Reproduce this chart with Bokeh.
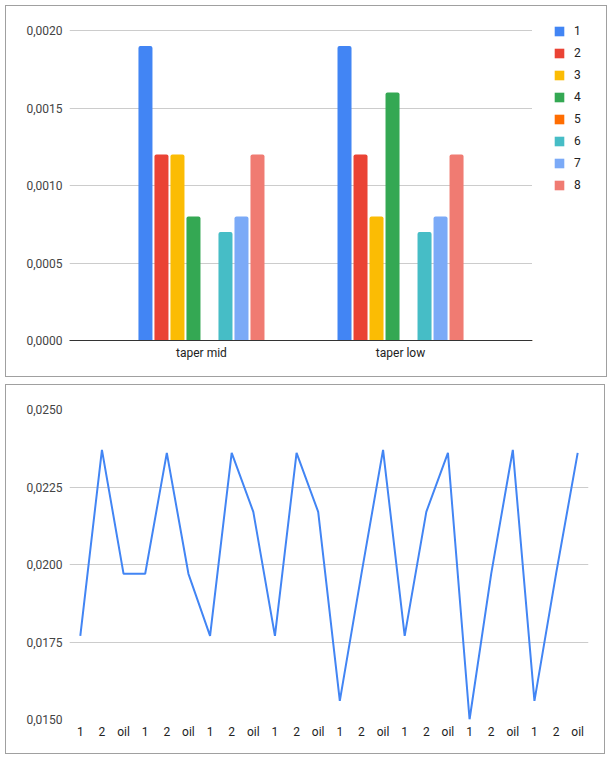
from bokeh.plotting import figure
from bokeh.models import (ColumnDataSource, FactorRange, Range1d, FixedTicker,
                          Legend, LegendItem, Spacer)
from bokeh.transform import dodge
from bokeh.layouts import column, row
from bokeh.embed import file_html
from bokeh.resources import INLINE

# ---------------- data ----------------
groups = ["taper mid", "taper low"]
series_names = ["1", "2", "3", "4", "5", "6", "7", "8"]
s1 = [0.0019, 0.0019]
s2 = [0.0012, 0.0012]
s3 = [0.0012, 0.0008]
s4 = [0.0008, 0.0016]
s5 = [0.0, 0.0]
s6 = [0.0007, 0.0007]
s7 = [0.0008, 0.0008]
s8 = [0.0012, 0.0012]
bar_colors = ["#4285F4", "#EA4335", "#FBBC04", "#34A853",
              "#FF6D01", "#46BDC6", "#7BAAF7", "#F07B72"]
bar_ticks = [0.0, 0.0005, 0.0010, 0.0015, 0.0020]
bar_tick_labels = ["0,0000", "0,0005", "0,0010", "0,0015", "0,0020"]

line_cats = ["1", "2", "oil"] * 8
line_vals = [0.0177, 0.0237, 0.0197, 0.0197, 0.0236, 0.0197, 0.0177, 0.0236,
             0.0217, 0.0177, 0.0236, 0.0217, 0.0156, 0.0197, 0.0237, 0.0177,
             0.0217, 0.0236, 0.0150, 0.0197, 0.0237, 0.0156, 0.0197, 0.0236]
line_ticks = [0.0150, 0.0175, 0.0200, 0.0225, 0.0250]
line_tick_labels = ["0,0150", "0,0175", "0,0200", "0,0225", "0,0250"]

FONT = "Roboto"
BOX = {"border": "1px solid #a0a0a0"}


def style_axes(p, xaxis_line):
    for ax in (p.xaxis, p.yaxis):
        ax.major_tick_line_color = None
        ax.minor_tick_line_color = None
        ax.major_tick_out = 0
        ax.major_tick_in = 0
        ax.minor_tick_out = 0
        ax.major_label_text_font = FONT
        ax.major_label_text_font_size = "12px"
    p.yaxis.axis_line_color = None
    p.yaxis.major_label_standoff = 7
    p.yaxis.major_label_text_color = "#444444"
    p.xaxis.axis_line_color = xaxis_line
    p.xaxis.major_label_standoff = 5
    p.xaxis.major_label_text_color = "#222222"
    p.xgrid.grid_line_color = None
    p.ygrid.grid_line_color = "#cccccc"


# ---------------- bar chart ----------------
# frame is 316 px tall; the top gridline (0,0020) sits 6 px below its top edge
p1 = figure(width=526, height=370, output_backend="svg", toolbar_location=None,
            x_range=FactorRange(*groups, range_padding=0.163,
                                range_padding_units="absolute"),
            y_range=Range1d(0, bar_ticks[-1] * 316 / 310),
            min_border_left=63, min_border_right=0,
            min_border_top=18, min_border_bottom=36)
p1.outline_line_color = None

all_series = [s1, s2, s3, s4, s5, s6, s7, s8]
step = 0.0804
bw = 0.0704
for i, (vals, col) in enumerate(zip(all_series, bar_colors)):
    src = ColumnDataSource(dict(cat=groups, val=vals))
    p1.vbar(x=dodge("cat", (i - 3.5) * step, range=p1.x_range), top="val",
            width=bw, source=src, color=col, line_color=None,
            border_radius=(2, 2, 0, 0))

p1.yaxis.ticker = FixedTicker(ticks=bar_ticks)
p1.yaxis.major_label_overrides = {t: l for t, l in zip(bar_ticks, bar_tick_labels)}
p1.ygrid.ticker = FixedTicker(ticks=bar_ticks)
style_axes(p1, "#333333")

# legend panel (same series, drawn outside its visible range)
pleg = figure(width=74, height=370, output_backend="svg", toolbar_location=None,
              x_axis_location=None, y_axis_location=None,
              x_range=Range1d(0, 1), y_range=Range1d(100, 200),
              min_border=0)
pleg.outline_line_color = None
pleg.grid.grid_line_color = None
leg_renderers = []
for vals, col in zip(all_series, bar_colors):
    src = ColumnDataSource(dict(x=[-50, -50], val=vals))
    r = pleg.vbar(x="x", top="val", width=0.1, source=src, color=col,
                  line_color=None)
    leg_renderers.append(r)

legend = Legend(items=[LegendItem(label=n, renderers=[r])
                       for n, r in zip(series_names, leg_renderers)],
                location=(21, 148), padding=0, margin=0, spacing=8,
                glyph_width=12, glyph_height=12, label_height=12,
                label_standoff=9, label_text_font=FONT,
                label_text_font_size="12px", label_text_color="#222222",
                border_line_color=None, background_fill_alpha=0)
pleg.add_layout(legend, "center")

top_chart = row(p1, pleg, styles=BOX)

# ---------------- line chart ----------------
xs = list(range(len(line_vals)))
p2 = figure(width=600, height=370, output_backend="svg", toolbar_location=None,
            x_range=Range1d(-0.5, len(line_vals) - 0.5),
            y_range=Range1d(0.0150, 0.0250),
            min_border_left=63, min_border_right=18,
            min_border_top=24, min_border_bottom=36,
            styles=BOX)
p2.outline_line_color = None
p2.line(x=xs, y=line_vals, line_color="#4285F4", line_width=2)

p2.yaxis.ticker = FixedTicker(ticks=line_ticks)
p2.yaxis.major_label_overrides = {t: l for t, l in zip(line_ticks, line_tick_labels)}
p2.ygrid.ticker = FixedTicker(ticks=line_ticks)
p2.xaxis.ticker = FixedTicker(ticks=xs)
p2.xaxis.major_label_overrides = {x: c for x, c in zip(xs, line_cats)}
style_axes(p2, None)

layout = column(Spacer(height=5),
                row(Spacer(width=5), column(top_chart, p2, spacing=7)))

open("out.html", "w").write(file_html(layout, INLINE))
